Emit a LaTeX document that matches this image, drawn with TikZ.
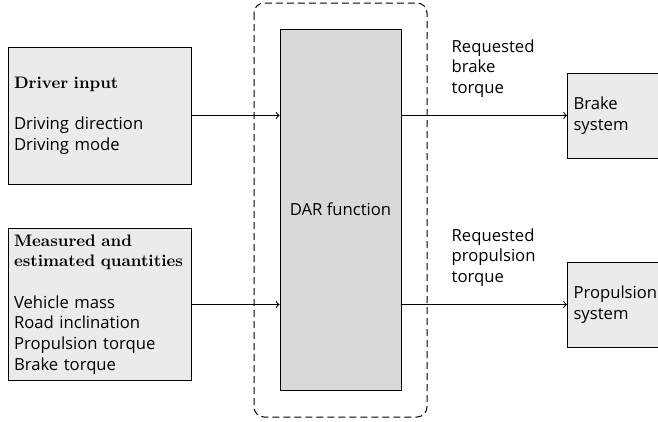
\documentclass[tikz,border=0pt]{standalone}
\usepackage{fontspec}
\setsansfont{Open Sans}
\definecolor{boxgray}{HTML}{EBEBEB}
\definecolor{fungray}{HTML}{D9D9D9}
\tikzset{
  inbox/.style={draw, fill=boxgray, align=left, text width=102.6pt, inner xsep=3.6pt},
  outbox/.style={draw, fill=boxgray, align=left, text width=62pt, inner xsep=3.6pt, minimum height=51pt, anchor=west},
  sig/.style={align=left, inner sep=0pt, anchor=south west, yshift=10.5pt}
}
\newcommand{\hd}[1]{\textrm{\textbf{#1}}}
\begin{document}
\begin{tikzpicture}[x=0.6pt, y=-0.6pt, line width=0.6pt,
  font=\sffamily\fontsize{10}{12.4}\selectfont]
\useasboundingbox (0,0) rectangle (658,421);
\clip (0,0) rectangle (658,421);

% inputs
\node[inbox, minimum height=82.2pt] (driver) at (99.5,115.5)
  {\hd{Driver input}\\[12.4pt] Driving direction\\ Driving mode};
\node[inbox, minimum height=91.2pt] (meas) at (99.5,304.5)
  {\hd{Measured and}\\ \hd{estimated quantities}\\[12.4pt] Vehicle mass\\ Road inclination\\ Propulsion torque\\ Brake torque};

% function
\draw[dashed, dash pattern=on 4.2pt off 2.4pt, rounded corners=6pt] (254,3) rectangle (427,417);
\node[draw, fill=fungray, minimum width=72.6pt, minimum height=216.6pt] (dar) at (340.5,209.5) {DAR function};

% outputs
\node[outbox] (brake) at (567,115.5) {Brake\\ system};
\node[outbox] (prop) at (567,304.5) {Propulsion\\ system};

\draw[->] (driver.east) -- (driver.east -| dar.west);
\draw[->] (meas.east) -- (meas.east -| dar.west);
\draw[->] (brake.west -| dar.east) -- (brake.west)
  node[sig, pos=0.3] (reqb) {Requested\\ brake\\ torque};
\draw[->] (prop.west -| dar.east) -- (prop.west)
  node[sig, pos=0.3] (reqp) {Requested\\ propulsion\\ torque};
\end{tikzpicture}
\end{document}
